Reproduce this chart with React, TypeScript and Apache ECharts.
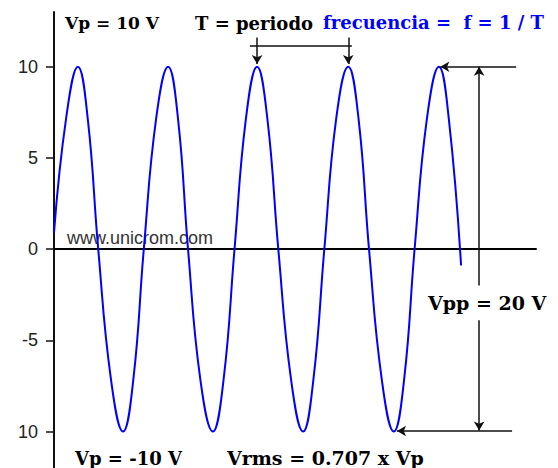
import React, { useEffect, useRef } from "react";
import * as echarts from "echarts";

// time (ms, period T ≈ 20) and voltage readings
const timeMs = [
  0, 2.7, 5.3, 7.5, 9.8, 12.6, 15.3, 17.6, 19.9, 22.6, 25.3, 27.5, 29.7, 32.4, 35.2,
  37.6, 40.0, 42.5, 45.0, 47.3, 49.7, 52.5, 55.2, 57.5, 59.9, 62.5, 65.2, 67.5, 69.8,
  72.6, 75.3, 77.6, 79.9, 82.6, 85.3, 87.5, 90.2,
];
const volts = [
  0.9, 7.2, 10, 7.1, 0, -7.1, -10, -7.1, 0, 7.1, 10, 7.1, 0, -7.1, -10,
  -7.1, 0, 7.1, 10, 7.1, 0, -7.1, -10, -7.1, 0, 7.1, 10, 7.1, 0,
  -7.1, -10, -7.1, 0, 7.1, 10, 7.1, -0.9,
];

const yTickValues = [-10, -5, 0, 5, 10];
const yTickLabels = ["10", "-5", "0", "5", "10"];

const textVp = "Vp = 10 V";
const textT = "T = periodo";
const textFreq = "frecuencia =  f = 1 / T";
const textVpp = "Vpp = 20 V";
const textVpNeg = "Vp = -10 V";
const textVrms = "Vrms = 0.707 x Vp";
const textWeb = "www.unicrom.com";

export default function App() {
  const ref = useRef<HTMLDivElement>(null);
  useEffect(() => {
    if (!ref.current) return;
    const chart = echarts.init(ref.current, null, { renderer: "svg" });
    const serif = "DejaVu Serif";
    const boldText = (text: string, x: number, y: number, fill = "#000", size = 18) => ({
      type: "text",
      x,
      y,
      style: {
        text,
        fill,
        font: `bold ${size}px "${serif}"`,
        textAlign: "left",
        textVerticalAlign: "middle",
      },
    });
    const seg = (a: number[], b: number[], arrow: boolean) => [
      { coord: a, symbol: "none" },
      { coord: b, symbol: arrow ? "arrow" : "none" },
    ];
    chart.setOption({
      animation: false,
      backgroundColor: "#fff",
      grid: { left: 54, right: 22, top: 12, bottom: 0, containLabel: false },
      xAxis: {
        type: "value",
        min: 0,
        max: 106.8,
        axisLine: { onZero: true, lineStyle: { color: "#000", width: 2 } },
        axisTick: { show: false },
        axisLabel: { show: false },
        splitLine: { show: false },
      },
      yAxis: {
        type: "value",
        min: -12,
        max: 13,
        axisLine: { show: true, onZero: false, lineStyle: { color: "#111", width: 2 } },
        axisTick: {
          show: true,
          length: 8,
          customValues: yTickValues,
          lineStyle: { color: "#111", width: 1.5 },
        },
        axisLabel: {
          show: true,
          margin: 16,
          customValues: yTickValues,
          color: "#222",
          fontFamily: "Liberation Sans",
          fontSize: 18,
          formatter: (v: number) => {
            const i = yTickValues.indexOf(v);
            return i >= 0 ? yTickLabels[i] : "";
          },
        },
        splitLine: { show: false },
      },
      series: [
        {
          type: "line",
          data: timeMs.map((t, i) => [t, volts[i]]),
          showSymbol: false,
          smooth: 0.45,
          lineStyle: { color: "#0000ff", width: 2 },
          itemStyle: { color: "#0000ff" },
          markLine: {
            silent: true,
            symbol: ["none", "arrow"],
            symbolSize: [8, 9],
            label: { show: false },
            lineStyle: { color: "#111", width: 1.5, type: "solid" },
            data: [
              seg([43.4, 11.14], [66.0, 11.14], false),
              seg([45.0, 11.6], [45.0, 10.15], true),
              seg([65.2, 11.6], [65.2, 10.15], true),
              seg([102.4, 10.0], [85.6, 10.0], true),
              seg([94.2, -2.0], [94.2, 10.0], true),
              seg([94.2, -3.9], [94.2, -9.95], true),
              seg([101.5, -9.97], [76.0, -9.97], true),
            ],
          },
        },
      ],
      graphic: [
        boldText(textVp, 65, 23, "#000", 17),
        boldText(textT, 195, 23),
        boldText(textFreq, 323, 22, "#0000ff", 18),
        boldText(textVpp, 428, 303, "#000", 19),
        boldText(textVpNeg, 75, 458),
        boldText(textVrms, 227, 458, "#000", 19),
        {
          type: "text",
          x: 67,
          y: 238,
          style: {
            text: textWeb,
            fill: "#333",
            font: '18px "Liberation Sans"',
            textAlign: "left",
            textVerticalAlign: "middle",
          },
        },
      ],
    });
    return () => chart.dispose();
  }, []);
  return (
    <div
      ref={ref}
      style={{ position: "absolute", left: 0, top: 0, width: 558, height: 468, background: "#fff" }}
    />
  );
}
